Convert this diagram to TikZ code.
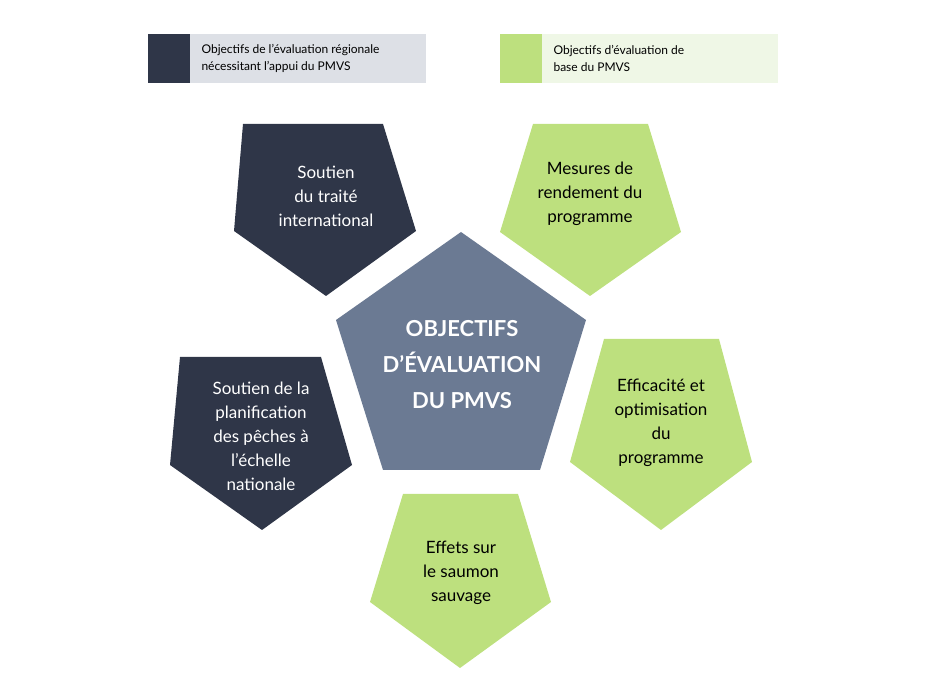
\documentclass[tikz,border=0pt]{standalone}
\usepackage{fontspec}
\setmainfont{Lato}
\definecolor{darkblue}{HTML}{2F3648}
\definecolor{slate}{HTML}{6B7A93}
\definecolor{lightgreen}{HTML}{BDE07E}
\definecolor{paleGray}{HTML}{DDE0E6}
\definecolor{paleGreen}{HTML}{EFF7E6}
\begin{document}
\begin{tikzpicture}[x=1pt,y=-1pt,
% common options for the labels:
label/.style = {align=center, font=\fontsize{17}{24}\selectfont},
legend/.style = {align=left, anchor=west, font=\fontsize{12}{17}\selectfont}]
\useasboundingbox (0,0) rectangle (927,692);
% legend
\fill[darkblue] (148,34) rectangle (190,83);
\fill[paleGray] (190,34) rectangle (426,83);
\node[legend] (L1) at (198,58.5) {Objectifs de l’évaluation régionale\\nécessitant l’appui du PMVS};
\fill[lightgreen] (500,34) rectangle (542,83);
\fill[paleGreen] (542,34) rectangle (778,83);
\node[legend] (L2) at (550,58.5) {Objectifs d’évaluation de\\base du PMVS};
% pentagons
\fill[slate] (461,232) -- (586,320) -- (540,470) -- (383,470) -- (336,320) -- cycle;
\fill[darkblue] (243,124) -- (383,124) -- (416,231) -- (326,296) -- (234,231) -- cycle;
\fill[lightgreen] (533,124) -- (648,124) -- (681,232) -- (590,296) -- (500,232) -- cycle;
\fill[darkblue] (180,357) -- (321,357) -- (352,465) -- (262,530) -- (170,465) -- cycle;
\fill[lightgreen] (604,339) -- (719,339) -- (752,462) -- (661,530) -- (570,462) -- cycle;
\fill[lightgreen] (403,494) -- (518,494) -- (551,602) -- (460,668) -- (370,602) -- cycle;
% texts
\node[align=center, text=white, font=\fontsize{22}{36}\selectfont\bfseries] (C) at (462,365) {OBJECTIFS\\D'ÉVALUATION\\DU PMVS};
\node[label, text=white] (T1) at (326,196) {Soutien\\du traité\\international};
\node[label] (T2) at (590,194) {Mesures de\\rendement du\\programme};
\node[label, text=white] (T3) at (261,436) {Soutien de la\\planification\\des pêches à\\l'échelle\\nationale};
\node[label] (T4) at (661,423) {Efficacité et\\optimisation\\du\\programme};
\node[label] (T5) at (461,573) {Effets sur\\le saumon\\sauvage};
\end{tikzpicture}
\end{document}
